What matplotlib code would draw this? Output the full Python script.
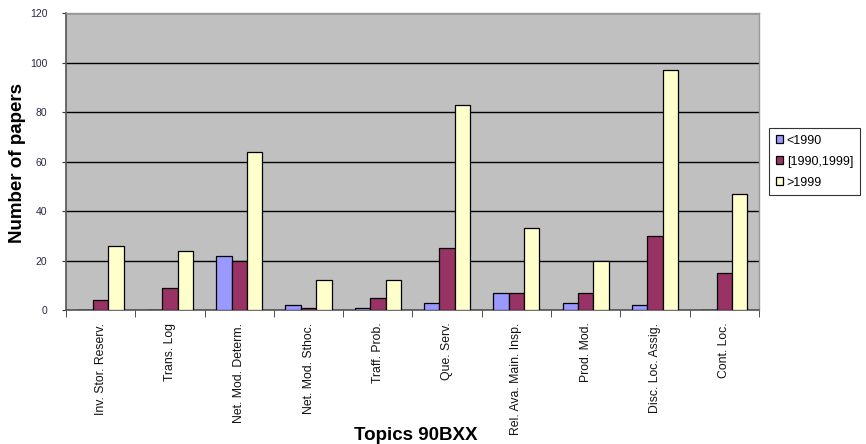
import numpy as np
import matplotlib
matplotlib.use("Agg")
import matplotlib.pyplot as plt
from matplotlib.ticker import FixedLocator, NullFormatter

plt.rcParams['font.family'] = ['Liberation Sans', 'DejaVu Sans']

topics = ["Inv. Stor. Reserv.", "Trans. Log", "Net. Mod. Determ.", "Net. Mod. Sthoc.",
          "Traff. Prob.", "Que. Serv.", "Rel. Ava. Main. Insp.", "Prod. Mod.",
          "Disc. Loc. Assig.", "Cont. Loc."]
series_names = ["<1990", "[1990,1999]", ">1999"]
before_1990 = [0, 0, 22, 2, 1, 3, 7, 3, 2, 0]
from_1990_to_1999 = [4, 9, 20, 1, 5, 25, 7, 7, 30, 15]
after_1999 = [26, 24, 64, 12, 12, 83, 33, 20, 97, 47]
colors = ["#9999FF", "#993366", "#FFFFCC"]

fig = plt.figure(figsize=(8.66, 4.44), dpi=100)
ax = fig.add_axes([0.0762, 0.3018, 0.8002, 0.6689])
ax.set_facecolor("#C0C0C0")

x = np.arange(len(topics))
w = 0.222
for i, (vals, c, name) in enumerate(zip([before_1990, from_1990_to_1999, after_1999],
                                         colors, series_names)):
    ax.bar(x + (i - 1) * w, vals, width=w, color=c, edgecolor="black",
           linewidth=0.9, label=name, zorder=3)

ax.set_xlim(-0.5, len(topics) - 0.5)
ax.set_ylim(0, 120)
ax.set_yticks(np.arange(0, 121, 20))
ax.yaxis.grid(True, color="black", linewidth=1.0, zorder=1)
ax.set_axisbelow(True)

ax.set_xticks(x)
ax.set_xticklabels(topics, rotation=90, fontsize=8.8, va="top", color="#111111")
ax.tick_params(axis="x", length=0, pad=9)
ax.xaxis.set_minor_locator(FixedLocator(np.arange(-0.5, len(topics), 1.0)))
ax.xaxis.set_minor_formatter(NullFormatter())
ax.tick_params(axis="x", which="minor", length=5, color="#333333", direction="out")
ax.tick_params(axis="y", labelsize=7.5, length=3, pad=10.5, color="#333333",
               labelcolor="#2a2a44")

for s in ["top", "right"]:
    ax.spines[s].set_color("#999999")
    ax.spines[s].set_linewidth(1.0)
for s in ["left", "bottom"]:
    ax.spines[s].set_color("#555555")
    ax.spines[s].set_linewidth(1.2)

fig.text(18 / 866, 0.632, "Number of papers", rotation=90, ha="center", va="center",
         fontsize=13.5, fontweight="bold")
fig.text(416 / 866, 0.02, "Topics 90BXX", ha="center", va="center",
         fontsize=13.5, fontweight="bold")

leg = ax.legend(loc="center left", bbox_to_anchor=(1.014, 0.5), fontsize=9,
                frameon=True, fancybox=False, edgecolor="black",
                handlelength=0.6, handleheight=0.6, handletextpad=0.3,
                borderpad=0.55, labelspacing=0.72, borderaxespad=0)
leg.get_frame().set_linewidth(0.8)

fig.savefig("out.png", dpi=100)
